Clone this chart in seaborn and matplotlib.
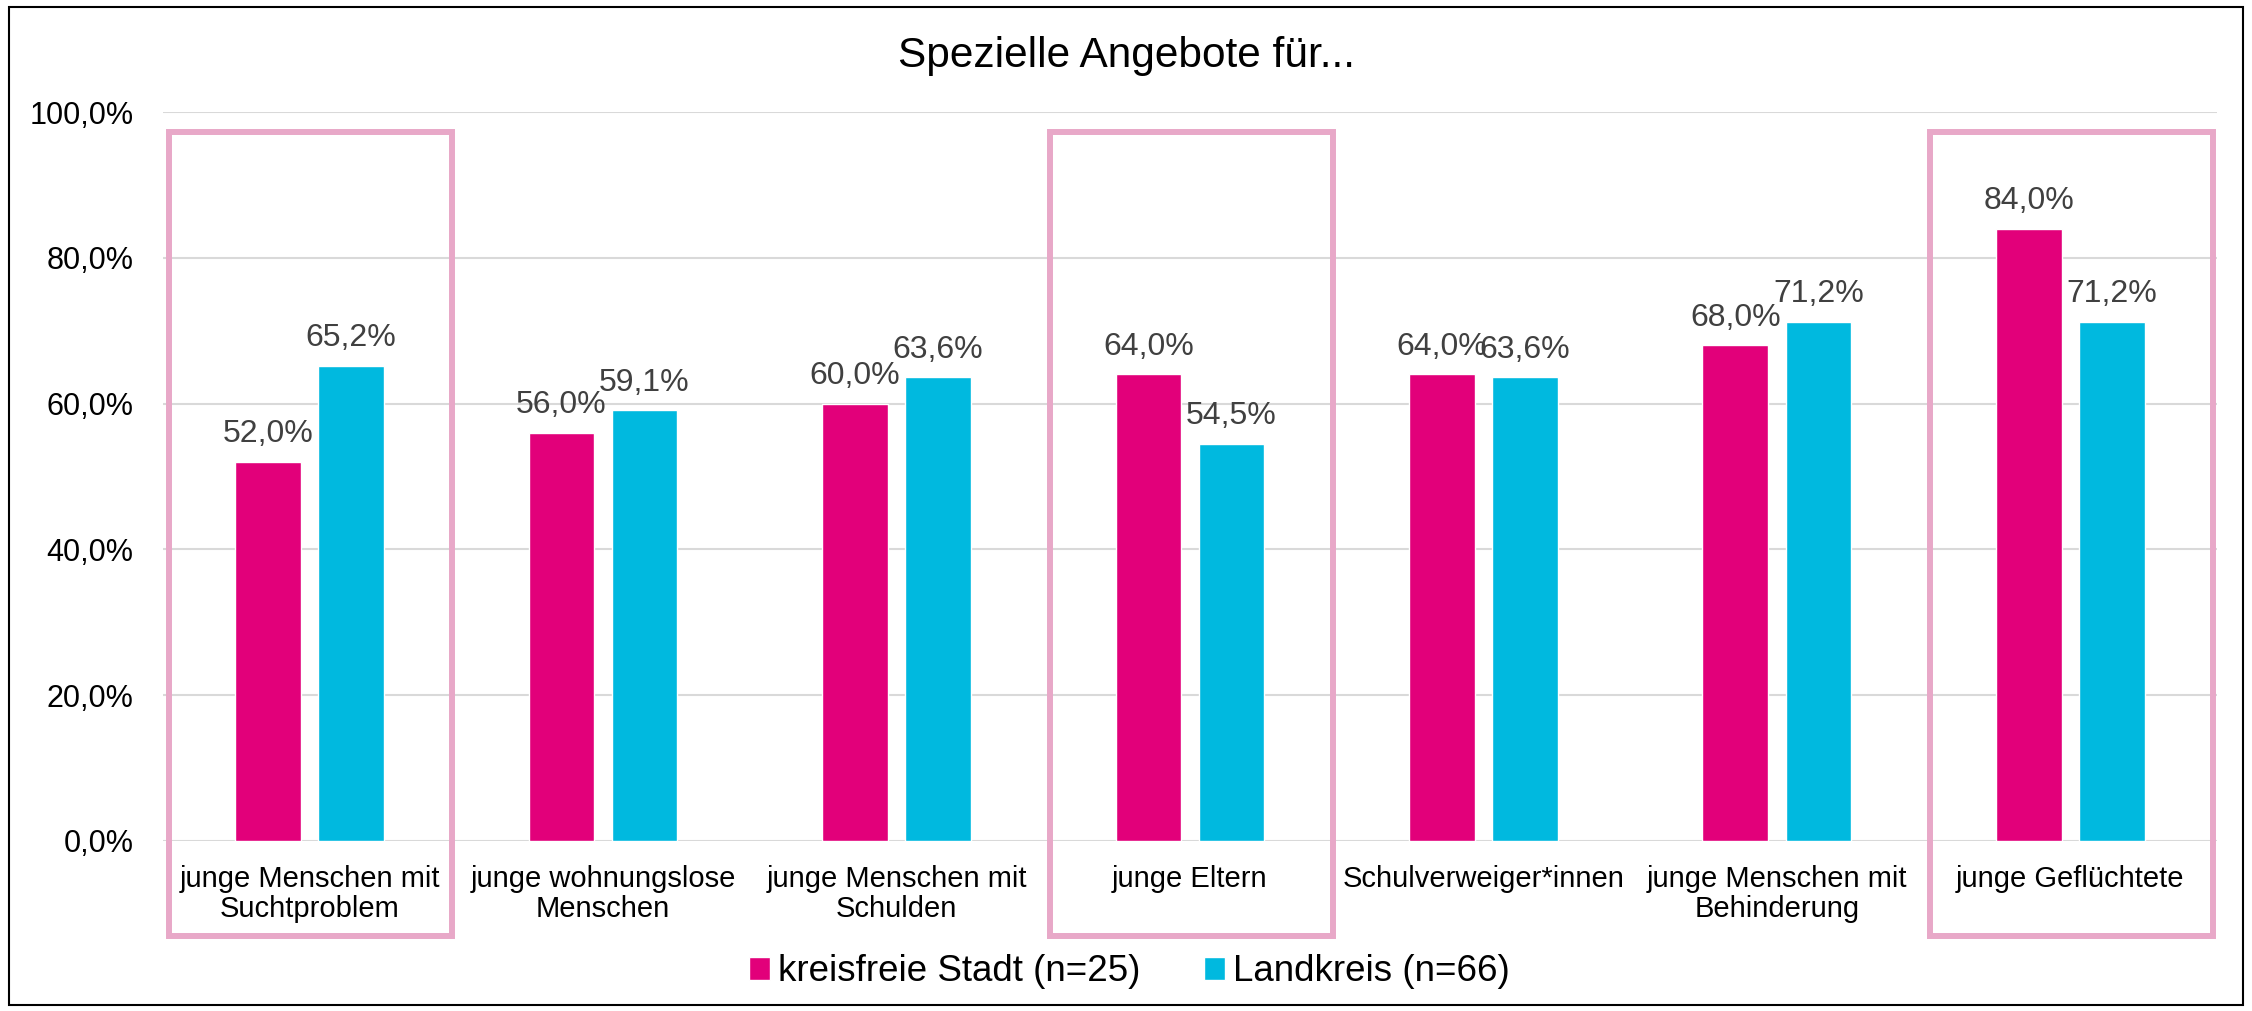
import matplotlib
matplotlib.use("Agg")
import matplotlib.pyplot as plt
from matplotlib.patches import Rectangle
import pandas as pd
import seaborn as sns

# Daten
kategorien = [
    "junge Menschen mit\nSuchtproblem",
    "junge wohnungslose\nMenschen",
    "junge Menschen mit\nSchulden",
    "junge Eltern",
    "Schulverweiger*innen",
    "junge Menschen mit\nBehinderung",
    "junge Geflüchtete",
]
stadt = [52.0, 56.0, 60.0, 64.0, 64.0, 68.0, 84.0]
landkreis = [65.2, 59.1, 63.6, 54.5, 63.6, 71.2, 71.2]
gruppen = ["kreisfreie Stadt (n=25)", "Landkreis (n=66)"]
markiert = [0, 3, 6]  # Kategorien mit rosa Rahmen
y_ticks = [0, 20, 40, 60, 80, 100]

PINK = "#E2007A"
BLAU = "#00B9DF"
RAHMEN = "#E8A8C8"

df = pd.DataFrame({
    "Kategorie": kategorien * 2,
    "Gruppe": [gruppen[0]] * len(kategorien) + [gruppen[1]] * len(kategorien),
    "Anteil": stadt + landkreis,
})

sns.set_theme(style="white")
plt.rcParams["font.family"] = ["Liberation Sans", "DejaVu Sans"]
plt.rcParams["text.color"] = "black"
plt.rcParams["xtick.color"] = "black"
plt.rcParams["ytick.color"] = "black"

fig = plt.figure(figsize=(22.52, 10.11), dpi=100)
ax = fig.add_axes([0.0723, 0.1682, 0.9122, 0.721])

sns.barplot(data=df, x="Kategorie", y="Anteil", hue="Gruppe",
            palette=[PINK, BLAU], width=0.566, gap=0.208,
            saturation=1, errorbar=None, ax=ax, legend=True)

for cont in ax.containers:
    ax.bar_label(cont, labels=[f"{b.get_height():.1f}%".replace(".", ",") for b in cont],
                 padding=9, fontsize=23, color="#404040")

ax.set_ylim(0, 100)
ax.set_xlim(-0.5, len(kategorien) - 0.5)
ax.set_yticks(y_ticks)
ax.set_yticklabels([f"{v:.1f}%".replace(".", ",") for v in y_ticks], fontsize=22)
ax.set_xticks(range(len(kategorien)))
ax.set_xticklabels(kategorien, fontsize=21, linespacing=1.12)
ax.tick_params(axis="x", length=0, pad=17)
ax.tick_params(axis="y", length=0, pad=21)
ax.set_xlabel("")
ax.set_ylabel("")
ax.grid(axis="y", color="#D9D9D9", linewidth=1.5)
ax.set_axisbelow(True)
sns.despine(ax=ax, left=True, bottom=True)

# rosa Rahmen
for i in markiert:
    ax.add_patch(Rectangle((i - 0.478, -13.0), 0.965, 110.3, fill=False,
                           edgecolor=RAHMEN, linewidth=4.3, clip_on=False, zorder=5))

# Legende
handles, labels = ax.get_legend_handles_labels()
ax.get_legend().remove()
fig.legend(handles, labels, loc="center", bbox_to_anchor=(0.5015, 0.0386),
           ncol=2, frameon=False, fontsize=26.5, handlelength=0.55,
           handleheight=0.6, handletextpad=0.22, columnspacing=1.75)

fig.text(0.5, 1 - 67 / 1011, "Spezielle Angebote für...", ha="center",
         va="baseline", fontsize=30.5)

# Rahmen um die Grafik
fig.add_artist(Rectangle((0.004, 0.006), 0.992, 0.987, transform=fig.transFigure,
                         fill=False, edgecolor="black", linewidth=1.5))

fig.savefig("out.png", dpi=100)
